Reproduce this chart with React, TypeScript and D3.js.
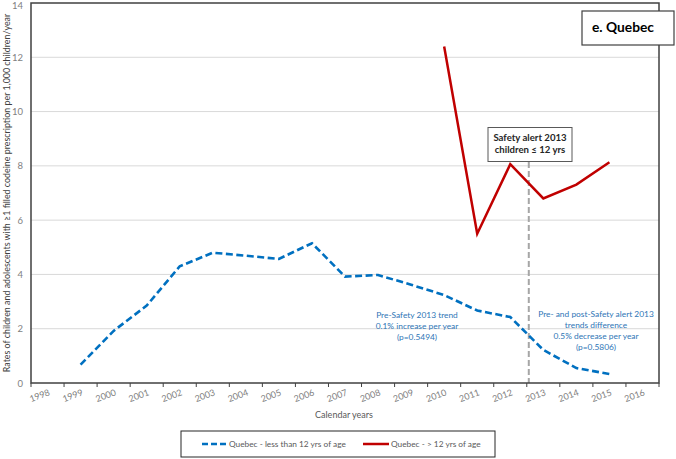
import React from "react";
import * as d3 from "d3";

// calendar years on the category axis
const years = [1998, 1999, 2000, 2001, 2002, 2003, 2004, 2005, 2006, 2007, 2008, 2009, 2010, 2011, 2012, 2013, 2014, 2015, 2016];

// Quebec - less than 12 yrs of age
const youngYears = [1999, 2000, 2001, 2002, 2003, 2004, 2005, 2006, 2007, 2008, 2009, 2010, 2011, 2012, 2013, 2014, 2015];
const youngRates = [0.68, 1.92, 2.85, 4.3, 4.8, 4.69, 4.57, 5.15, 3.92, 3.98, 3.62, 3.24, 2.67, 2.43, 1.22, 0.55, 0.33];

// Quebec - > 12 yrs of age
const olderYears = [2010, 2011, 2012, 2013, 2014, 2015];
const olderRates = [12.4, 5.5, 8.06, 6.8, 7.31, 8.13];

const yTicks = [0, 2, 4, 6, 8, 10, 12, 14];
const alertYear = 2013;

const W = 676;
const H = 459;
const margin = { top: 3, right: 17, bottom: 76, left: 31 };
const font = "Lato, 'Open Sans', sans-serif";

export default function App() {
  const x = d3.scaleBand<number>()
    .domain(years)
    .range([margin.left, W - margin.right])
    .padding(0);
  const y = d3.scaleLinear()
    .domain([0, 14])
    .range([H - margin.bottom, margin.top]);

  const cx = (yr: number) => (x(yr) as number) + x.bandwidth() / 2;
  const line = d3.line<[number, number]>()
    .x(d => cx(d[0]))
    .y(d => y(d[1]));

  const young = youngYears.map((yr, i) => [yr, youngRates[i]] as [number, number]);
  const older = olderYears.map((yr, i) => [yr, olderRates[i]] as [number, number]);

  const x0 = margin.left;
  const x1 = W - margin.right;
  const yb = y(0);
  const boundaries = years.map(yr => x(yr) as number).concat([x1]);
  // the alert line sits just after the start of 2013
  const alertX = (x(alertYear) as number) + 2;

  return (
    <svg width={W} height={H} style={{ position: "absolute", left: 0, top: 0, fontFamily: font }}>
      <rect x={0} y={0} width={W} height={H} fill="#fff" />
      {/* grid */}
      {yTicks.filter(t => t > 0 && t < 14).map(t => (
        <line key={t} x1={x0} x2={x1} y1={y(t)} y2={y(t)} stroke="#d9d9d9" strokeWidth={1} />
      ))}
      {/* y labels */}
      {yTicks.map(t => (
        <text key={t} x={23} y={Math.max(y(t) + 3.5, 9)} textAnchor="end" fontSize={9.5} fill="#7f7f7f">{t}</text>
      ))}
      {/* x ticks */}
      {boundaries.map((bx, i) => (
        <line key={i} x1={bx} x2={bx} y1={yb} y2={yb + 4} stroke="#404040" strokeWidth={1} />
      ))}
      {years.map(yr => (
        <text key={yr} transform={`translate(${cx(yr) + 3},${yb + 12}) rotate(-20)`} textAnchor="end"
          fontSize={9} fill="#7f7f7f">{yr}</text>
      ))}
      {/* alert line */}
      <line x1={alertX} x2={alertX} y1={162} y2={yb} stroke="#a6a6a6" strokeWidth={2} strokeDasharray="6,3" />
      {/* series */}
      <path d={line(young) || ""} fill="none" stroke="#0070c0" strokeWidth={2.6} strokeDasharray="7,3.5" />
      <path d={line(older) || ""} fill="none" stroke="#c00000" strokeWidth={2.5} strokeLinejoin="miter" />
      {/* frame */}
      <rect x={x0} y={margin.top} width={x1 - x0} height={yb - margin.top} fill="none" stroke="#404040" strokeWidth={1.5} />
      {/* alert box */}
      <rect x={488} y={127.5} width={84} height={34} fill="#fff" stroke="#595959" strokeWidth={1} />
      <text x={530} y={140.5} textAnchor="middle" fontSize={9.6} fontWeight="bold" fill="#262626">Safety alert 2013</text>
      <text x={530} y={152.5} textAnchor="middle" fontSize={9.6} fontWeight="bold" fill="#262626">children ≤ 12 yrs</text>
      {/* panel title */}
      <rect x={582} y={11} width={92} height={34} fill="#fff" stroke="#404040" strokeWidth={1.2} />
      <text x={623} y={32} textAnchor="middle" fontSize={13.8} fontWeight="bold" fill="#000">e. Quebec</text>
      {/* trend notes */}
      <g fontSize={8.4} fill="#2e75b6" textAnchor="middle">
        <text x={417} y={318}>Pre-Safety 2013 trend</text>
        <text x={417} y={329}>0.1% increase per year</text>
        <text x={417} y={340}>(p=0.5494)</text>
        <text x={596} y={317}>Pre- and post-Safety alert 2013</text>
        <text x={596} y={328}>trends difference</text>
        <text x={596} y={339}>0.5% decrease per year</text>
        <text x={596} y={350}>(p=0.5806)</text>
      </g>
      {/* axis titles */}
      <text transform={`translate(10,${(margin.top + yb) / 2}) rotate(-90)`} textAnchor="middle" fontSize={8.9} fill="#404040">
        Rates of children and adolescents with ≥1 filled codeine prescription per 1,000 children/year
      </text>
      <text x={344} y={418} textAnchor="middle" fontSize={9} fill="#595959">Calendar years</text>
      {/* legend */}
      <rect x={181} y={431} width={314} height={26} fill="#fff" stroke="#262626" strokeWidth={1} />
      <line x1={202} x2={227} y1={444} y2={444} stroke="#0070c0" strokeWidth={2.6} strokeDasharray="6,3" />
      <text x={229} y={447} fontSize={8.3} fill="#595959">Quebec - less than 12 yrs of age</text>
      <line x1={363} x2={389} y1={444} y2={444} stroke="#c00000" strokeWidth={2.5} />
      <text x={391} y={447} fontSize={8.3} fill="#595959">Quebec - &gt; 12 yrs of age</text>
    </svg>
  );
}
